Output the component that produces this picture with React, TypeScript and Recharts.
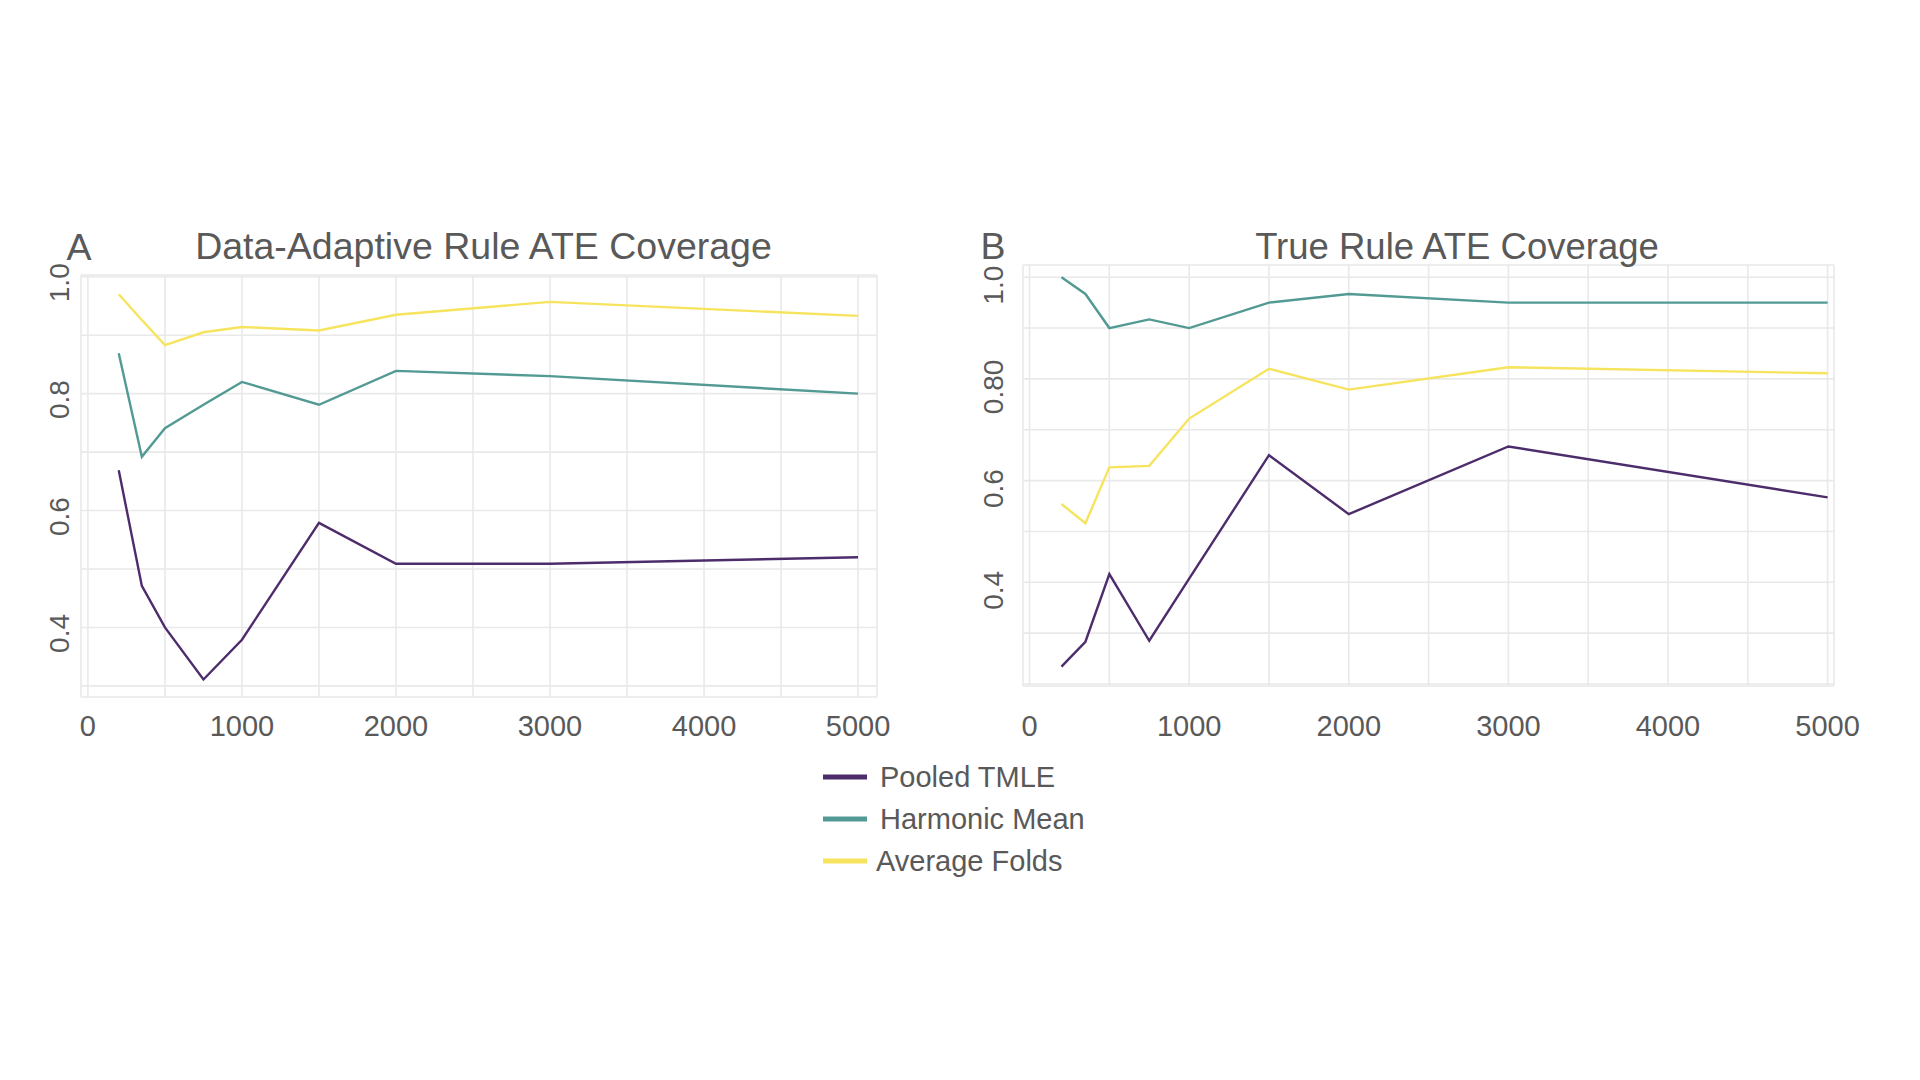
import { LineChart, Line, XAxis, YAxis, CartesianGrid } from 'recharts'

// sample sizes (x) shared by every series
const sampleSizes = [200, 350, 500, 750, 1000, 1500, 2000, 3000, 5000]

// panel A: data-adaptive rule coverage
const pooledA = [0.669, 0.471, 0.4, 0.311, 0.379, 0.579, 0.509, 0.509, 0.52]
const harmonicA = [0.869, 0.692, 0.741, 0.781, 0.82, 0.781, 0.839, 0.83, 0.8]
const averageA = [0.97, 0.926, 0.883, 0.905, 0.914, 0.908, 0.935, 0.957, 0.933]

// panel B: true rule coverage
const pooledB = [0.234, 0.283, 0.416, 0.285, 0.407, 0.65, 0.534, 0.667, 0.567]
const harmonicB = [1.0, 0.967, 0.9, 0.917, 0.9, 0.95, 0.967, 0.95, 0.95]
const averageB = [0.554, 0.516, 0.626, 0.629, 0.722, 0.82, 0.779, 0.823, 0.811]

const xTicks = [0, 500, 1000, 1500, 2000, 2500, 3000, 3500, 4000, 4500, 5000]
const xTickLabels = ['0', '', '1000', '', '2000', '', '3000', '', '4000', '', '5000']

const yTicksA = [0.3, 0.4, 0.5, 0.6, 0.7, 0.8, 0.9, 1.0]
const yTickLabelsA = ['', '0.4', '', '0.6', '', '0.8', '', '1.0']
const yTicksB = [0.2, 0.3, 0.4, 0.5, 0.6, 0.7, 0.8, 0.9, 1.0]
const yTickLabelsB = ['', '', '0.4', '', '0.6', '', '0.80', '', '1.0']

const seriesKeys = ['pooled', 'harmonic', 'average']
const seriesNames = ['Pooled TMLE', 'Harmonic Mean', 'Average Folds']

const COLORS: Record<string, string> = {
  pooled: '#4d2c6c',
  harmonic: '#529a93',
  average: '#f6e45e',
}
const TEXT = '#595959'
const FONT = '"Liberation Sans", Arial, Helvetica, sans-serif'

function buildRows(pooled: number[], harmonic: number[], average: number[]) {
  return sampleSizes.map((n, i) => ({
    n,
    pooled: pooled[i],
    harmonic: harmonic[i],
    average: average[i],
  }))
}

const rowsA = buildRows(pooledA, harmonicA, averageA)
const rowsB = buildRows(pooledB, harmonicB, averageB)

interface PanelProps {
  rows: ReturnType<typeof buildRows>
  left: number
  xDomain: [number, number]
  yDomain: [number, number]
  yTicks: number[]
  yLabels: string[]
  margin: { top: number; right: number; bottom: number; left: number }
  xGap: number
  yGap: number
  yShift: number
}

function Panel({ rows, left, xDomain, yDomain, yTicks, yLabels, margin, xGap, yGap, yShift }: PanelProps) {
  const xTick = (props: any) => {
    const { x, y, payload } = props
    const label = xTickLabels[xTicks.indexOf(payload.value)]
    if (!label) return <g />
    return (
      <text x={x} y={y} dy="0.71em" textAnchor="middle" fontSize={29} fill={TEXT} fontFamily={FONT}>
        {label}
      </text>
    )
  }

  const yTick = (props: any) => {
    const { x, payload } = props
    const y = props.y + yShift
    const idx = yTicks.findIndex(t => Math.abs(t - payload.value) < 1e-6)
    const label = yLabels[idx]
    if (!label) return <g />
    return (
      <text
        x={x}
        y={y}
        transform={`rotate(-90 ${x} ${y})`}
        textAnchor="middle"
        dominantBaseline="central"
        fontSize={28}
        fill={TEXT}
        fontFamily={FONT}
      >
        {label}
      </text>
    )
  }

  return (
    <div style={{ position: 'absolute', left, top: 0 }}>
      <LineChart width={960} height={1080} data={rows} margin={margin}>
        <CartesianGrid stroke="#e9e9e9" strokeWidth={1.6} />
        <XAxis
          dataKey="n"
          type="number"
          domain={xDomain}
          ticks={xTicks}
          interval={0}
          allowDataOverflow
          axisLine={false}
          tickLine={false}
          tickSize={0}
          tickMargin={xGap}
          height={40}
          tick={xTick}
        />
        <YAxis
          type="number"
          domain={yDomain}
          ticks={yTicks}
          interval={0}
          allowDataOverflow
          axisLine={false}
          tickLine={false}
          tickSize={0}
          tickMargin={yGap}
          width={40}
          tick={yTick}
        />
        {seriesKeys.map(key => (
          <Line
            key={key}
            type="linear"
            dataKey={key}
            stroke={COLORS[key]}
            strokeWidth={2.4}
            dot={false}
            activeDot={false}
            isAnimationActive={false}
          />
        ))}
      </LineChart>
    </div>
  )
}

export default function App() {
  return (
    <div style={{ position: 'absolute', left: 0, top: 0, width: 1920, height: 1080, background: '#fff', overflow: 'hidden' }}>
      <Panel
        rows={rowsA}
        left={0}
        xDomain={[-45, 5123]}
        yDomain={[0.281, 1.003]}
        yTicks={yTicksA}
        yLabels={yTickLabelsA}
        margin={{ top: 275, right: 83, bottom: 343, left: 41 }}
        xGap={18}
        yGap={21}
        yShift={6}
      />
      <Panel
        rows={rowsB}
        left={960}
        xDomain={[-41, 5040]}
        yDomain={[0.196, 1.024]}
        yTicks={yTicksB}
        yLabels={yTickLabelsB}
        margin={{ top: 265, right: 86, bottom: 354, left: 23 }}
        xGap={29}
        yGap={29}
        yShift={8}
      />
      <svg
        width={1920}
        height={1080}
        style={{ position: 'absolute', left: 0, top: 0, pointerEvents: 'none' }}
        fontFamily={FONT}
      >
        <text x={79} y={260} textAnchor="middle" fontSize={37.5} fill={TEXT}>A</text>
        <text x={483.5} y={259} textAnchor="middle" fontSize={37.5} fill={TEXT}>Data-Adaptive Rule ATE Coverage</text>
        <text x={993} y={259} textAnchor="middle" fontSize={37.5} fill={TEXT}>B</text>
        <text x={1457} y={259} textAnchor="middle" fontSize={36.5} fill={TEXT}>True Rule ATE Coverage</text>
        {seriesKeys.map((key, i) => (
          <g key={key}>
            <line x1={823} x2={867} y1={777 + i * 42} y2={777 + i * 42} stroke={COLORS[key]} strokeWidth={5} />
            <text x={i === 2 ? 876 : 880} y={787 + i * 42} fontSize={29} fill={TEXT}>{seriesNames[i]}</text>
          </g>
        ))}
      </svg>
    </div>
  )
}
